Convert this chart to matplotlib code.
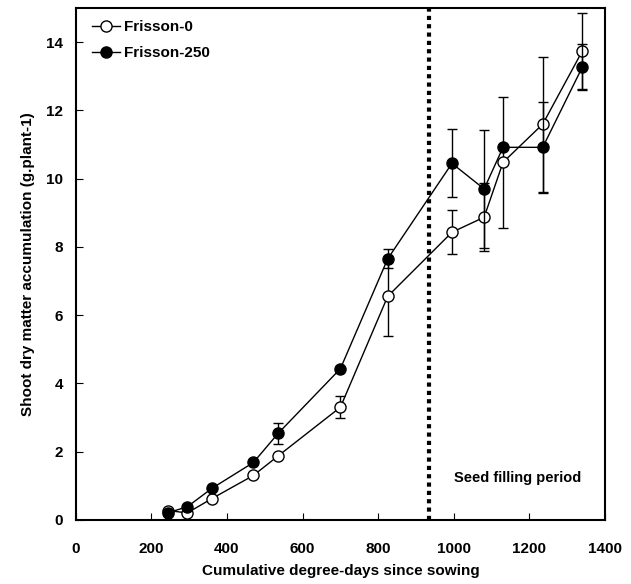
import matplotlib
matplotlib.use('Agg')
import matplotlib.pyplot as plt
from matplotlib.lines import Line2D
import numpy as np

plt.rcParams['font.family'] = ['Liberation Sans', 'DejaVu Sans']
plt.rcParams['font.weight'] = 'bold'

degree_days = [245, 295, 360, 470, 535, 700, 825, 995, 1080, 1130, 1235, 1340]

frisson_0 = [0.27, 0.2, 0.62, 1.3, 1.87, 3.3, 6.55, 8.43, 8.87, 10.48, 11.6, 13.75]
frisson_0_err = [0, 0, 0, 0, 0, 0.33, 1.15, 0.65, 1.0, 1.92, 1.98, 1.12]

frisson_250 = [0.21, 0.38, 0.92, 1.68, 2.53, 4.43, 7.65, 10.45, 9.7, 10.92, 10.92, 13.28]
frisson_250_err = [0, 0, 0, 0, 0.3, 0, 0.28, 1.0, 1.72, 0, 1.33, 0.68]

seed_filling_start = 935

fig = plt.figure(figsize=(6.31, 5.84), dpi=100)
ax = fig.add_axes([0.120, 0.110, 0.839, 0.876])

ax.errorbar(degree_days, frisson_0, yerr=frisson_0_err, color='black', lw=1,
            marker='o', ms=8, mfc='white', mec='black', mew=1,
            elinewidth=1, capsize=3.5, zorder=3)
ax.errorbar(degree_days, frisson_250, yerr=frisson_250_err, color='black', lw=1,
            marker='o', ms=8, mfc='black', mec='black',
            elinewidth=1, capsize=3.5, zorder=4)

ax.axvline(seed_filling_start, color='black', ls=(0, (1, 1)), lw=3)
ax.text(1000, 1.1, 'Seed filling period', fontsize=10.5, fontweight='bold')

ax.set_xlim(0, 1400)
ax.set_ylim(0, 15)
ax.set_xticks(np.arange(0, 1401, 200))
ax.set_yticks(np.arange(0, 15, 2))
ax.tick_params(direction='in', length=5, labelsize=11)
ax.tick_params(axis='x', pad=16)
ax.tick_params(axis='y', pad=9)
for lab in ax.get_xticklabels() + ax.get_yticklabels():
    lab.set_fontweight('bold')
for s in ax.spines.values():
    s.set_linewidth(1.5)

ax.set_xlabel('Cumulative degree-days since sowing', fontsize=11, fontweight='bold', labelpad=6)
ax.set_ylabel('Shoot dry matter accumulation (g.plant-1)', fontsize=11, fontweight='bold', labelpad=8)

handles = [
    Line2D([], [], color='black', lw=1, marker='o', ms=8, mfc='white', mec='black'),
    Line2D([], [], color='black', lw=1, marker='o', ms=8, mfc='black', mec='black'),
]
ax.legend(handles, ['Frisson-0', 'Frisson-250'], loc='upper left', frameon=False,
          bbox_to_anchor=(0.008, 1.0), handlelength=1.8, handletextpad=0.3,
          labelspacing=0.75, borderaxespad=0.4, prop={'weight': 'bold', 'size': 11})

fig.savefig('out.png', dpi=100)
